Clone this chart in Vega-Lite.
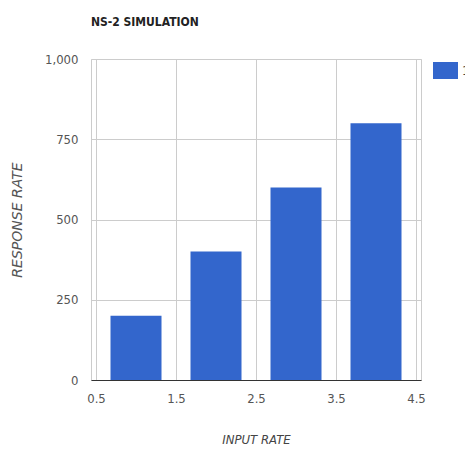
{
  "$schema": "https://vega.github.io/schema/vega-lite/v6.json",
  "width": 330,
  "height": 321,
  "autosize": {"type": "none"},
  "padding": {"left": 91, "top": 59, "right": 44, "bottom": 70},
  "background": "white",
  "title": {
    "text": "NS-2 SIMULATION",
    "anchor": "start",
    "frame": "group",
    "offset": 24,
    "font": "DejaVu Sans Condensed, Roboto, sans-serif",
    "fontSize": 12,
    "fontWeight": "bold",
    "color": "#222222"
  },
  "data": {
    "values": [
      {"input_rate": 1, "response_rate": 200, "series": "1"},
      {"input_rate": 2, "response_rate": 400, "series": "1"},
      {"input_rate": 3, "response_rate": 600, "series": "1"},
      {"input_rate": 4, "response_rate": 800, "series": "1"}
    ]
  },
  "mark": {"type": "bar", "width": 51},
  "encoding": {
    "x": {
      "field": "input_rate",
      "type": "quantitative",
      "scale": {"domain": [0.5, 4.5], "nice": false, "zero": false},
      "axis": {
        "title": "INPUT RATE",
        "values": [0.5, 1.5, 2.5, 3.5, 4.5],
        "format": ".1f",
        "labelFlush": false,
        "domainColor": "#333333",
        "domainWidth": 1,
        "ticks": false,
        "gridColor": "#cccccc",
        "labelPadding": 12,
        "titlePadding": 28,
        "titleFontSize": 13,
        "titleFontStyle": "italic",
        "titleFontWeight": "normal"
      }
    },
    "y": {
      "field": "response_rate",
      "type": "quantitative",
      "scale": {"domain": [0, 1000], "nice": false},
      "axis": {
        "title": "RESPONSE RATE",
        "values": [0, 250, 500, 750, 1000],
        "format": ",.0f",
        "domain": false,
        "ticks": false,
        "gridColor": "#cccccc",
        "labelPadding": 13,
        "titlePadding": 20,
        "titleFont": "DejaVu Sans, sans-serif",
        "titleFontSize": 14,
        "titleColor": "#555555",
        "titleFontStyle": "italic",
        "titleFontWeight": "normal"
      }
    },
    "color": {
      "field": "series",
      "type": "nominal",
      "scale": {"range": ["#3366cc"]},
      "legend": {
        "title": null,
        "orient": "none",
        "legendX": 342,
        "legendY": -1,
        "symbolType": "M-1,-0.68H1V0.68H-1Z",
        "symbolSize": 625,
        "symbolStrokeWidth": 0,
        "labelFont": "DejaVu Sans Condensed, Roboto, sans-serif",
        "labelFontSize": 13,
        "labelColor": "#444444"
      }
    }
  },
  "config": {
    "view": {"stroke": "#cccccc"},
    "axis": {
      "labelFont": "DejaVu Sans Condensed, Roboto, sans-serif",
      "labelFontSize": 13,
      "labelColor": "#555555",
      "titleFont": "DejaVu Sans Condensed, Roboto, sans-serif",
      "titleColor": "#444444"
    }
  }
}
